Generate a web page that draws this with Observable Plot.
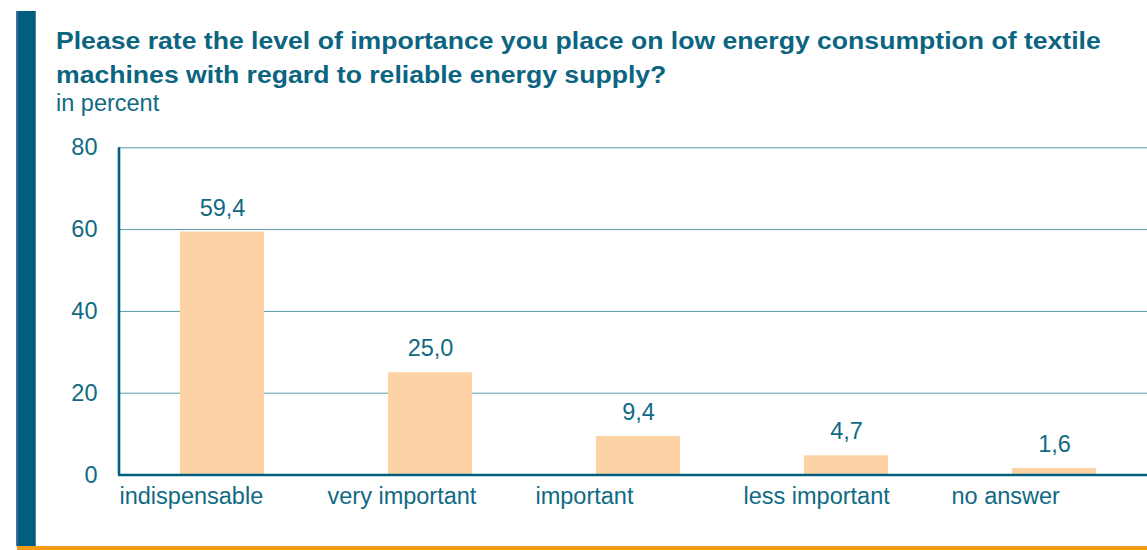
<!DOCTYPE html>
<html>
<head>
<meta charset="utf-8">
<script src="https://cdn.jsdelivr.net/npm/d3@7"></script>
<script src="https://cdn.jsdelivr.net/npm/@observablehq/plot@0.6"></script>
<style>
  html, body { margin: 0; padding: 0; background: #fff; }
  #page { position: relative; width: 1147px; height: 550px; overflow: hidden;
          font-family: "Liberation Sans", Arial, sans-serif; color: #106a84; }
  #sidebar { position: absolute; left: 16px; top: 11px; width: 20px; height: 535px;
             background: #005f7f; box-sizing: border-box;
             border-left: 2px solid #3f7197; border-right: 1px solid #4f7fa3; }
  #footer { position: absolute; left: 17px; top: 546px; width: 1130px; height: 4px; background: #f39a17; }
  #title { position: absolute; left: 56px; top: 24px; font-weight: bold; font-size: 24px;
           line-height: 34px; white-space: nowrap; color: #0b6580;
           transform: scaleX(1.108); transform-origin: left top; }
  #subtitle { position: absolute; left: 56px; top: 88px; font-size: 23.5px; line-height: 30px; }
  #chart { position: absolute; left: 0; top: 120px; }
  #chart svg { overflow: hidden; }
</style>
</head>
<body>
<div id="page">
  <div id="sidebar"></div>
  <div id="footer"></div>
  <div id="title">Please rate the level of importance you place on low energy consumption of textile<br>machines with regard to reliable energy supply?</div>
  <div id="subtitle">in percent</div>
  <div id="chart"></div>
</div>
<script>
// Survey answers (percent of respondents)
const categories = ["indispensable", "very important", "important", "less important", "no answer"];
const values = [59.4, 25.0, 9.4, 4.7, 1.6];
const yTicks = [0, 20, 40, 60, 80];

const data = categories.map((c, i) => ({category: c, value: values[i]}));

const width = 1147;
const height = 430;
const marginLeft = 118;
const marginRight = -11; // the last band runs past the right edge
const step = (width - marginLeft - marginRight) / categories.length;

const teal = "#106a84";
const dark = "#005f7f";
const fs = 23.5;
const fmt = v => v.toFixed(1).replace(".", ",");

const chart = Plot.plot({
  width, height,
  marginLeft, marginRight,
  marginTop: 27.3,
  marginBottom: 75.5,
  style: {fontFamily: '"Liberation Sans", Arial, sans-serif', fontSize: fs + "px", color: teal, background: "transparent"},
  x: {type: "band", domain: categories, padding: 0, label: null},
  y: {domain: [0, 80], ticks: yTicks, label: null},
  marks: [
    Plot.gridY(yTicks, {stroke: "#5b97a7", strokeOpacity: 1, strokeWidth: 1}),
    Plot.barY(data, {x: "category", y: "value", fill: "#fdd3a6", insetLeft: 62, insetRight: 62}),
    Plot.text(data, {x: "category", y: "value", text: d => fmt(d.value), dy: -24, fill: teal, fontSize: fs}),
    Plot.ruleY([0], {stroke: dark, strokeWidth: 2.5}),
    Plot.ruleX([categories[0]], {y1: 0, y2: 80, dx: -step / 2 + 0.5, stroke: dark, strokeWidth: 2.6}),
    Plot.axisY(yTicks, {tickSize: 0, tickPadding: 21, fill: teal, fontSize: fs, label: null}),
    Plot.axisX({tickSize: 0, tickPadding: 12.1, textAnchor: "start", dx: -step / 2 + 1, fill: teal, fontSize: fs, label: null})
  ]
});

document.getElementById("chart").appendChild(chart);
</script>
</body>
</html>
